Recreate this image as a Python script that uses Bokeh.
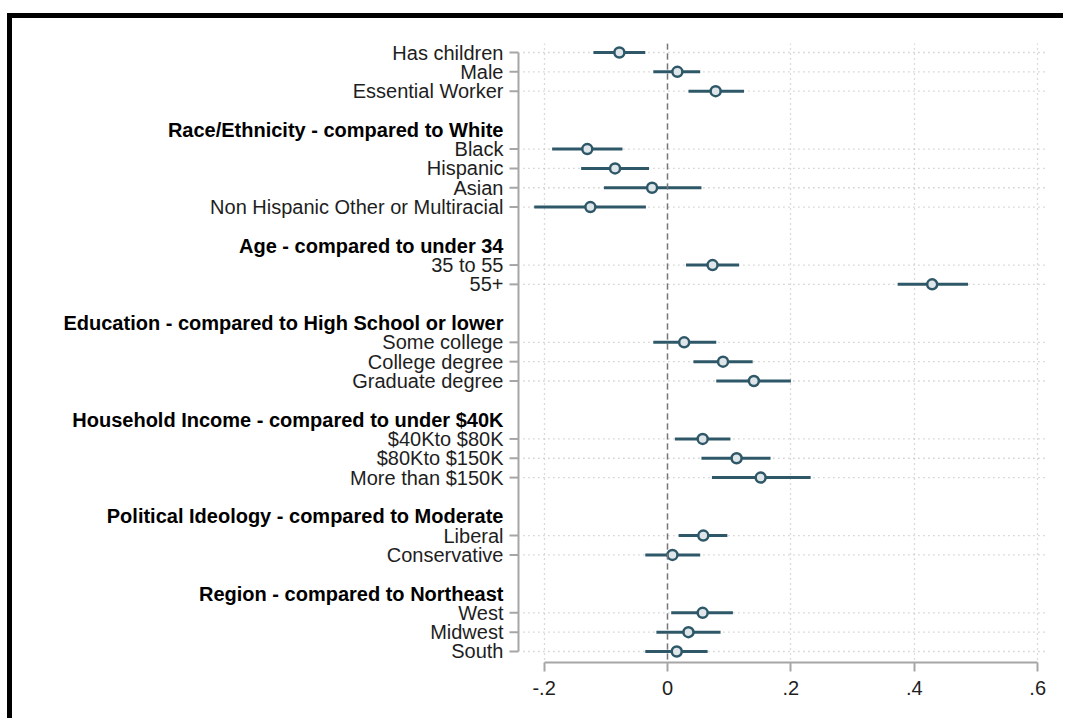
from bokeh.plotting import figure
from bokeh.models import FixedTicker, Range1d, Span, ColumnDataSource
from bokeh.core.properties import value
from bokeh.embed import file_html
from bokeh.resources import INLINE

# ---- data ----
terms = ["Has children", "Male", "Essential Worker",
         "Black", "Hispanic", "Asian", "Non Hispanic Other or Multiracial",
         "35 to 55", "55+",
         "Some college", "College degree", "Graduate degree",
         "$40Kto $80K", "$80Kto $150K", "More than $150K",
         "Liberal", "Conservative",
         "West", "Midwest", "South"]
coef = [-0.078, 0.016, 0.078,
        -0.130, -0.085, -0.025, -0.125,
        0.073, 0.429,
        0.027, 0.090, 0.140,
        0.057, 0.112, 0.151,
        0.058, 0.008,
        0.057, 0.034, 0.015]
ci_low = [-0.120, -0.023, 0.034,
          -0.187, -0.140, -0.103, -0.216,
          0.030, 0.373,
          -0.023, 0.042, 0.079,
          0.012, 0.055, 0.072,
          0.018, -0.036,
          0.006, -0.018, -0.036]
ci_high = [-0.036, 0.053, 0.124,
           -0.073, -0.030, 0.055, -0.035,
           0.116, 0.487,
           0.079, 0.138, 0.200,
           0.102, 0.167, 0.232,
           0.097, 0.053,
           0.106, 0.086, 0.065]
headers = ["Race/Ethnicity - compared to White",
           "Age - compared to under 34",
           "Education - compared to High School or lower",
           "Household Income - compared to under $40K",
           "Political Ideology - compared to Moderate",
           "Region - compared to Northeast"]
header_before = [3, 7, 9, 12, 15, 17]   # index of the first term of each group
x_ticks = [-0.2, 0, 0.2, 0.4, 0.6]
x_tick_labels = ["-.2", "0", ".2", ".4", ".6"]

# ---- row positions ----
rows, header_rows = [], []
r = 0
for i, t in enumerate(terms):
    if i in header_before:
        r += 1
        header_rows.append(r)
        r += 1
    rows.append(r)
    r += 1
last = rows[-1]

FONT = "Liberation Sans"
FS = "20px"
LINE = "#2e5868"
AXC = "#a6a6a6"

W, H = 1056, 705
MB_R, MB_T, MB_B = 20, 25, 61
PX_PER_UNIT = 617.0
frame_w = W - MB_R
x_end = 0.6175
x_start = x_end - frame_w / PX_PER_UNIT
xa = -0.2415                       # position of the y axis line
tick_len = 9 / PX_PER_UNIT

p = figure(width=W, height=H, output_backend="svg", toolbar_location=None,
           x_range=Range1d(x_start, x_end), y_range=Range1d(last + 0.57, -0.466),
           y_axis_location=None,
           min_border_left=0, min_border_top=MB_T, min_border_right=MB_R,
           min_border_bottom=MB_B)
p.styles = {"border-left": "5px solid black", "border-top": "5px solid black",
            "margin-top": "13px", "margin-left": "7px"}
p.outline_line_color = None
p.background_fill_color = "white"
p.border_fill_color = "white"

# vertical grid
p.ygrid.visible = False
p.xgrid.ticker = FixedTicker(ticks=x_ticks)
p.xgrid.grid_line_color = "#b8b8b8"
p.xgrid.grid_line_dash = "1 4"
p.xgrid.grid_line_width = 1.3

# horizontal grid at each term
p.segment(x0=xa + 0.008, x1=x_end, y0=rows, y1=rows, line_color="#b8b8b8",
          line_dash="1 4", line_width=1.3)

# x axis
ax = p.xaxis[0]
ax.ticker = FixedTicker(ticks=x_ticks)
ax.major_label_overrides = {t: l for t, l in zip(x_ticks, x_tick_labels)}
ax.bounds = (x_ticks[0], x_ticks[-1])
ax.axis_line_color = AXC
ax.axis_line_width = 2
ax.major_tick_line_color = AXC
ax.major_tick_line_width = 2
ax.major_tick_in = 0
ax.major_tick_out = 9
ax.minor_tick_line_color = None
ax.major_label_text_font = FONT
ax.major_label_text_font_size = FS
ax.major_label_text_color = "#1e1e1e"
ax.major_label_standoff = 9

# y axis drawn as a bracket with ticks
p.segment(x0=[xa], x1=[xa], y0=[rows[0]], y1=[rows[-1]], line_color=AXC, line_width=2)
p.segment(x0=xa - tick_len, x1=xa, y0=rows, y1=rows, line_color=AXC, line_width=2)

# labels
p.text(x=xa, y=rows, text=terms, x_offset=-15, text_align="right",
       text_baseline="middle", text_font=value(FONT), text_font_size=FS,
       text_color="#1e1e1e")
p.text(x=xa, y=header_rows, text=headers, x_offset=-15, text_align="right",
       text_baseline="middle", text_font=value(FONT), text_font_size=FS,
       text_font_style="bold", text_color="black")

# zero line
p.add_layout(Span(location=0, dimension="height", line_color="#777777",
                  line_dash="6 4", line_width=1.5))

src = ColumnDataSource(dict(y=rows, coef=coef, lo=ci_low, hi=ci_high))
p.segment(x0="lo", x1="hi", y0="y", y1="y", source=src, line_color=LINE, line_width=3)
p.scatter(x="coef", y="y", source=src, size=10, marker="circle",
          line_color=LINE, line_width=2.5, fill_color="#dfe6e9")

open("out.html", "w").write(file_html(p, INLINE))
